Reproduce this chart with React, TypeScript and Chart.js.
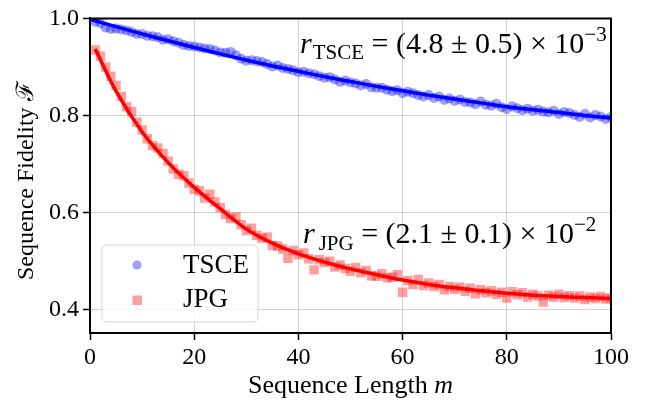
import React, { useEffect, useRef } from "react";
import { Chart, registerables } from "chart.js";
Chart.register(...registerables);

const SERIF = '"Liberation Serif", "DejaVu Serif", serif';

const M = [
  1, 2, 3, 4, 5, 6, 7, 8, 9, 10, 11, 12, 13, 14, 15, 16, 17, 18, 19, 20,
  21, 22, 23, 24, 25, 26, 27, 28, 29, 30, 31, 32, 33, 34, 35, 36, 37, 38, 39, 40,
  41, 42, 43, 44, 45, 46, 47, 48, 49, 50, 51, 52, 53, 54, 55, 56, 57, 58, 59, 60,
  61, 62, 63, 64, 65, 66, 67, 68, 69, 70, 71, 72, 73, 74, 75, 76, 77, 78, 79, 80,
  81, 82, 83, 84, 85, 86, 87, 88, 89, 90, 91, 92, 93, 94, 95, 96, 97, 98, 99, 100,
];

const TSCE = [
  0.993, 0.99, 0.981, 0.978, 0.979, 0.977, 0.975, 0.972, 0.968, 0.968,
  0.964, 0.963, 0.961, 0.956, 0.957, 0.953, 0.95, 0.945, 0.943, 0.942,
  0.94, 0.938, 0.937, 0.934, 0.93, 0.929, 0.931, 0.924, 0.917, 0.913,
  0.914, 0.912, 0.91, 0.906, 0.901, 0.903, 0.898, 0.896, 0.893, 0.889,
  0.89, 0.887, 0.885, 0.881, 0.878, 0.879, 0.874, 0.869, 0.872, 0.868,
  0.866, 0.862, 0.865, 0.858, 0.857, 0.857, 0.853, 0.85, 0.852, 0.846,
  0.849, 0.846, 0.842, 0.839, 0.842, 0.836, 0.839, 0.832, 0.835, 0.83,
  0.833, 0.828, 0.827, 0.823, 0.829, 0.822, 0.82, 0.824, 0.817, 0.813,
  0.819, 0.815, 0.811, 0.814, 0.81, 0.812, 0.808, 0.806, 0.81, 0.803,
  0.807, 0.805, 0.801, 0.797, 0.803, 0.796, 0.801, 0.798, 0.793, 0.797,
];

const JPG = [
  0.935, 0.922, 0.9, 0.881, 0.862, 0.839, 0.818, 0.808, 0.786, 0.77,
  0.752, 0.738, 0.733, 0.722, 0.706, 0.69, 0.679, 0.676, 0.661, 0.648,
  0.645, 0.63, 0.638, 0.622, 0.61, 0.596, 0.588, 0.591, 0.575, 0.563,
  0.568, 0.553, 0.547, 0.549, 0.532, 0.531, 0.525, 0.506, 0.522, 0.513,
  0.517, 0.505, 0.482, 0.503, 0.497, 0.5, 0.488, 0.492, 0.485, 0.479,
  0.487, 0.476, 0.481, 0.47, 0.469, 0.474, 0.466, 0.467, 0.472, 0.436,
  0.46, 0.452, 0.462, 0.45, 0.455, 0.448, 0.452, 0.441, 0.448, 0.442,
  0.447, 0.438, 0.444, 0.433, 0.441, 0.435, 0.439, 0.432, 0.436, 0.424,
  0.437, 0.431, 0.435, 0.426, 0.432, 0.428, 0.416, 0.43, 0.426, 0.432,
  0.425, 0.429, 0.424, 0.428, 0.421, 0.426, 0.423, 0.427, 0.422, 0.424,
];

const FIT_M = [0, 5, 10, 15, 20, 25, 30, 35, 40, 45, 50, 55, 60, 65, 70, 75, 80, 85, 90, 95, 100];
const TSCE_FIT = [
  0.998, 0.983, 0.968, 0.954, 0.94, 0.927, 0.914, 0.902, 0.891, 0.88, 0.87,
  0.86, 0.851, 0.842, 0.834, 0.826, 0.818, 0.812, 0.806, 0.8, 0.795,
];
const JPG_FIT_M = [1, 5, 10, 15, 20, 25, 30, 35, 40, 45, 50, 55, 60, 65, 70, 75, 80, 85, 90, 95, 100];
const JPG_FIT = [
  0.937, 0.85, 0.766, 0.703, 0.652, 0.608, 0.566, 0.537, 0.515, 0.498, 0.484,
  0.472, 0.461, 0.452, 0.445, 0.439, 0.434, 0.43, 0.427, 0.425, 0.423,
];

const X_TICKS = [0, 20, 40, 60, 80, 100];
const Y_TICKS = [0.4, 0.6, 0.8, 1.0];

const SERIES = ["TSCE", "JPG"];
const RATE_TSCE = ["4.8", "0.5", "−3"];
const RATE_JPG = ["2.1", "0.1", "−2"];

const PT_BLUE = "rgba(0,0,255,0.38)";
const PT_RED = "rgba(255,0,0,0.38)";

type Part = { text: string; font: string; dy?: number; gap?: number };

function drawRich(ctx: CanvasRenderingContext2D, x: number, y: number, parts: Part[]) {
  ctx.textAlign = "left";
  ctx.textBaseline = "alphabetic";
  ctx.fillStyle = "#000";
  for (const p of parts) {
    ctx.font = p.font;
    ctx.fillText(p.text, x, y + (p.dy || 0));
    x += ctx.measureText(p.text).width + (p.gap || 0);
  }
}

const overlay = {
  id: "overlay",
  afterDatasetsDraw(chart: any) {
    const ctx: CanvasRenderingContext2D = chart.ctx;
    ctx.save();
    // annotations
    const big = `30px ${SERIF}`;
    const it = `italic 30px ${SERIF}`;
    const small = `21px ${SERIF}`;
    drawRich(ctx, 300, 53, [
      { text: "r", font: it, gap: 1 },
      { text: SERIES[0], font: small, dy: 6 },
      { text: ` = (${RATE_TSCE[0]} ± ${RATE_TSCE[1]}) × 10`, font: big },
      { text: RATE_TSCE[2], font: small, dy: -12 },
    ]);
    drawRich(ctx, 303, 243, [
      { text: "r", font: it, gap: 4 },
      { text: SERIES[1], font: small, dy: 7 },
      { text: ` = (${RATE_JPG[0]} ± ${RATE_JPG[1]}) × 10`, font: big },
      { text: RATE_JPG[2], font: small, dy: -12 },
    ]);
    // legend
    const lx = 102, ly = 245, lw = 156, lh = 77, r = 5;
    ctx.beginPath();
    ctx.moveTo(lx + r, ly);
    ctx.arcTo(lx + lw, ly, lx + lw, ly + lh, r);
    ctx.arcTo(lx + lw, ly + lh, lx, ly + lh, r);
    ctx.arcTo(lx, ly + lh, lx, ly, r);
    ctx.arcTo(lx, ly, lx + lw, ly, r);
    ctx.closePath();
    ctx.fillStyle = "rgba(255,255,255,0.8)";
    ctx.fill();
    ctx.strokeStyle = "rgba(204,204,204,0.8)";
    ctx.lineWidth = 1;
    ctx.stroke();
    ctx.fillStyle = PT_BLUE;
    ctx.beginPath();
    ctx.arc(137, 265, 4.5, 0, Math.PI * 2);
    ctx.fill();
    ctx.fillStyle = PT_RED;
    ctx.fillRect(132.5, 295.5, 9.5, 9.5);
    ctx.fillStyle = "#000";
    ctx.font = `27px ${SERIF}`;
    ctx.fillText(SERIES[0], 183, 273);
    ctx.fillText(SERIES[1], 183, 307);
    ctx.restore();
  },
  afterDraw(chart: any) {
    const ctx: CanvasRenderingContext2D = chart.ctx;
    const ca = chart.chartArea;
    ctx.save();
    ctx.strokeStyle = "#000";
    ctx.lineWidth = 2;
    ctx.beginPath();
    ctx.moveTo(ca.left - 1, ca.top);
    ctx.lineTo(ca.right, ca.top);
    ctx.lineTo(ca.right, ca.bottom + 1);
    ctx.stroke();
    // axis titles
    ctx.fillStyle = "#000";
    ctx.textBaseline = "alphabetic";
    const cx = (ca.left + ca.right) / 2;
    const f1 = `26px ${SERIF}`;
    const f2 = `italic 26px ${SERIF}`;
    ctx.font = f1;
    const t1 = "Sequence Length ";
    const w1 = ctx.measureText(t1).width;
    ctx.font = f2;
    const w2 = ctx.measureText("m").width;
    const sx = cx - (w1 + w2) / 2;
    ctx.font = f1;
    ctx.textAlign = "left";
    ctx.fillText(t1, sx, 393);
    ctx.font = f2;
    ctx.fillText("m", sx + w1, 393);
    ctx.translate(33, (ca.top + ca.bottom) / 2 + 5);
    ctx.rotate(-Math.PI / 2);
    ctx.textAlign = "center";
    ctx.font = `24px ${SERIF}`;
    ctx.fillText("Sequence Fidelity ℱ", 0, 0);
    ctx.restore();
  },
};

export default function App() {
  const ref = useRef<HTMLCanvasElement>(null);
  useEffect(() => {
    if (!ref.current) return;
    const gridColor = (c: any) => {
      const v = c.tick ? c.tick.value : null;
      if (v === 0 || v === 100 || v === 1.0) return "rgba(0,0,0,0)";
      return "rgba(176,176,176,0.55)";
    };
    const tickFont = { family: SERIF, size: 24 };
    const chart = new Chart(ref.current, {
      type: "scatter",
      data: {
        datasets: [
          {
            label: "TSCE fit",
            data: FIT_M.map((m, i) => ({ x: m, y: TSCE_FIT[i] })),
            showLine: true,
            borderColor: "#0000ff",
            borderWidth: 3.5,
            pointRadius: 0,
            cubicInterpolationMode: "monotone",
            order: 0,
          },
          {
            label: "JPG fit",
            data: JPG_FIT_M.map((m, i) => ({ x: m, y: JPG_FIT[i] })),
            showLine: true,
            borderColor: "#ff0000",
            borderWidth: 3.5,
            pointRadius: 0,
            cubicInterpolationMode: "monotone",
            order: 0,
          },
          {
            label: SERIES[0],
            data: M.map((m, i) => ({ x: m, y: TSCE[i] })),
            pointStyle: "circle",
            pointRadius: 5,
            backgroundColor: PT_BLUE,
            borderWidth: 0,
            order: 2,
          },
          {
            label: SERIES[1],
            data: M.map((m, i) => ({ x: m, y: JPG[i] })),
            pointStyle: "rect",
            pointRadius: 6.7,
            backgroundColor: PT_RED,
            borderWidth: 0,
            order: 1,
          },
        ],
      },
      options: {
        responsive: false,
        animation: false,
        devicePixelRatio: 1,
        layout: { padding: { left: 0, top: 13, right: 41, bottom: 0 } },
        plugins: { legend: { display: false }, tooltip: { enabled: false } },
        scales: {
          x: {
            type: "linear",
            min: 0,
            max: 100,
            afterBuildTicks: (s: any) => {
              s.ticks = X_TICKS.map((v) => ({ value: v }));
            },
            afterFit: (s: any) => {
              s.height = 70;
            },
            ticks: { font: tickFont, color: "#000", padding: 3, maxRotation: 0 },
            grid: { color: gridColor, tickColor: "#000", tickLength: 7, tickWidth: 1.5, lineWidth: 1 },
            border: { color: "#000", width: 2 },
          },
          y: {
            type: "linear",
            min: 0.352,
            max: 1.0,
            afterBuildTicks: (s: any) => {
              s.ticks = Y_TICKS.map((v) => ({ value: v }));
            },
            afterFit: (s: any) => {
              s.width = 90;
            },
            ticks: {
              font: tickFont,
              color: "#000",
              padding: 4,
              callback: (v: any) => Number(v).toFixed(1),
            },
            grid: { color: gridColor, tickColor: "#000", tickLength: 7, tickWidth: 1.5, lineWidth: 1 },
            border: { color: "#000", width: 2 },
          },
        },
      },
      plugins: [overlay],
    } as any);
    return () => chart.destroy();
  }, []);
  return (
    <div style={{ position: "absolute", left: 0, top: 0, width: 652, height: 403, background: "#fff" }}>
      <canvas ref={ref} width={652} height={403} />
    </div>
  );
}
